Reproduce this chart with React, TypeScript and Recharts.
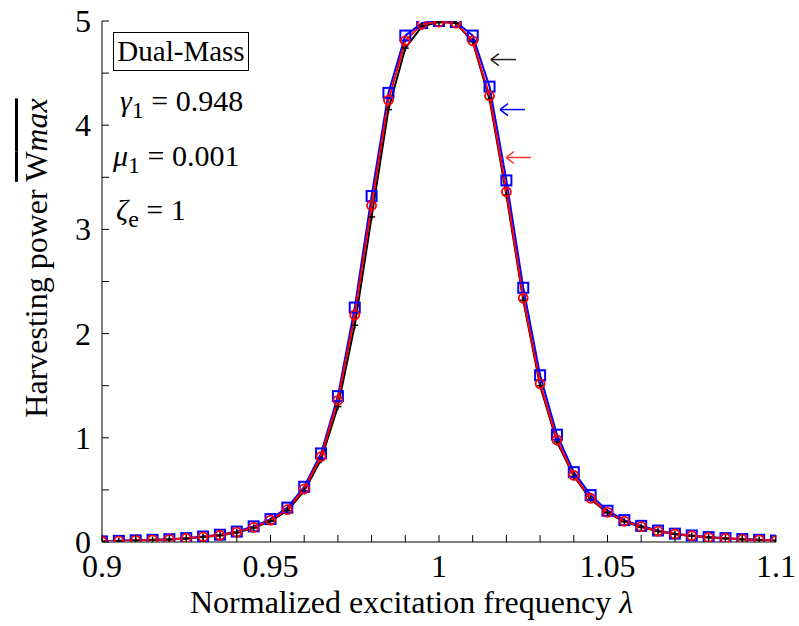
import { LineChart, Line, XAxis, YAxis, ReferenceDot } from 'recharts'

const lambdas = [
  0.9, 0.905, 0.91, 0.915, 0.92, 0.925, 0.93, 0.935, 0.94, 0.945,
  0.95, 0.955, 0.96, 0.965, 0.97, 0.975, 0.98, 0.985, 0.99, 0.995,
  1.0, 1.005, 1.01, 1.015, 1.02, 1.025, 1.03, 1.035, 1.04, 1.045,
  1.05, 1.055, 1.06, 1.065, 1.07, 1.075, 1.08, 1.085, 1.09, 1.095, 1.1,
]

const blackSeries = [
  0.005, 0.01, 0.014, 0.019, 0.024, 0.033, 0.048, 0.062, 0.09, 0.135,
  0.2, 0.3, 0.49, 0.79, 1.3, 2.08, 3.12, 4.15, 4.74, 4.95,
  4.99, 4.98, 4.8, 4.25, 3.33, 2.32, 1.5, 0.96, 0.63, 0.41,
  0.28, 0.195, 0.143, 0.102, 0.075, 0.058, 0.044, 0.034, 0.025, 0.019, 0.012,
]

const blueSeries = [
  0.006, 0.011, 0.016, 0.021, 0.027, 0.037, 0.053, 0.07, 0.1, 0.15,
  0.22, 0.33, 0.53, 0.85, 1.4, 2.25, 3.32, 4.31, 4.86, 4.98,
  5.0, 4.99, 4.86, 4.37, 3.47, 2.44, 1.6, 1.03, 0.67, 0.45,
  0.3, 0.21, 0.155, 0.11, 0.08, 0.063, 0.047, 0.037, 0.028, 0.021, 0.014,
]

const redSeries = [
  0.005, 0.01, 0.015, 0.02, 0.025, 0.035, 0.05, 0.065, 0.095, 0.14,
  0.21, 0.31, 0.51, 0.82, 1.36, 2.18, 3.23, 4.24, 4.81, 4.97,
  4.99, 4.98, 4.81, 4.28, 3.36, 2.34, 1.52, 0.98, 0.64, 0.42,
  0.285, 0.2, 0.147, 0.105, 0.077, 0.06, 0.045, 0.035, 0.026, 0.02, 0.013,
]

const xTicks = [
  0.9, 0.91, 0.92, 0.93, 0.94, 0.95, 0.96, 0.97, 0.98, 0.99, 1.0,
  1.01, 1.02, 1.03, 1.04, 1.05, 1.06, 1.07, 1.08, 1.09, 1.1,
]
const xLabels = [0.9, 0.95, 1, 1.05, 1.1]
const yTicks = [0, 0.5, 1, 1.5, 2, 2.5, 3, 3.5, 4, 4.5, 5]
const yLabels = [0, 1, 2, 3, 4, 5]

// arrows pointing at the three curves
const arrows = [
  { x: 1.0154, y: 4.63, color: '#222222' },
  { x: 1.0181, y: 4.15, color: '#0000ff' },
  { x: 1.0199, y: 3.69, color: '#ff3333' },
]

const data = lambdas.map((x, i) => ({
  x,
  black: blackSeries[i],
  blue: blueSeries[i],
  red: redSeries[i],
}))

const FONT = 'Liberation Serif, DejaVu Serif, serif'
const isIn = (list: number[], v: number) => list.some((l) => Math.abs(l - v) < 1e-6)

const BottomTick = ({ x, y, payload }: any) => (
  <g>
    <line x1={x} y1={y} x2={x} y2={y - 7} stroke="#000" strokeWidth={1} />
    {isIn(xLabels, payload.value) && (
      <text x={x} y={y + 35} textAnchor="middle" fontFamily={FONT} fontSize={32} fill="#000">
        {String(payload.value)}
      </text>
    )}
  </g>
)

const TopTick = ({ x, y }: any) => (
  <line x1={x} y1={y} x2={x} y2={y + 7} stroke="#000" strokeWidth={1} />
)

const LeftTick = ({ x, y, payload }: any) => (
  <g>
    <line x1={x} y1={y} x2={x + 7} y2={y} stroke="#000" strokeWidth={1} />
    {isIn(yLabels, payload.value) && (
      <text x={x - 11} y={y + 11} textAnchor="end" fontFamily={FONT} fontSize={32} fill="#000">
        {String(payload.value)}
      </text>
    )}
  </g>
)

const RightTick = ({ x, y }: any) => (
  <line x1={x} y1={y} x2={x - 8} y2={y} stroke="#000" strokeWidth={1} />
)

const PlusDot = ({ cx, cy }: any) => (
  <g>
    <line x1={cx - 3.5} y1={cy} x2={cx + 3.5} y2={cy} stroke="#000" strokeWidth={1.5} />
    <line x1={cx} y1={cy - 3.5} x2={cx} y2={cy + 3.5} stroke="#000" strokeWidth={1.5} />
  </g>
)

const SquareDot = ({ cx, cy }: any) => (
  <rect x={cx - 5} y={cy - 5} width={10} height={10} fill="none" stroke="#0000ff" strokeWidth={2} />
)

const CircleDot = ({ cx, cy }: any) => (
  <circle cx={cx} cy={cy} r={4.5} fill="none" stroke="#ff0000" strokeWidth={1.8} />
)

const Arrow = (color: string) => ({ cx, cy }: any) => (
  <g stroke={color} strokeWidth={1.5} fill="none">
    <line x1={cx} y1={cy} x2={cx + 25} y2={cy} />
    <line x1={cx} y1={cy} x2={cx + 8} y2={cy - 6} />
    <line x1={cx} y1={cy} x2={cx + 8} y2={cy + 6} />
  </g>
)

const textLine = { position: 'absolute' as const, fontFamily: FONT, fontSize: 30, color: '#000', lineHeight: 1, whiteSpace: 'nowrap' as const }

export default function App() {
  return (
    <div style={{ position: 'absolute', left: 0, top: 0, width: 799, height: 626, background: '#fff' }}>
      <LineChart width={799} height={626} data={data} margin={{ top: 21, right: 23, left: 0, bottom: 0 }}>
        <XAxis
          dataKey="x"
          type="number"
          domain={[0.9, 1.1]}
          ticks={xTicks}
          interval={0}
          height={84}
          tickSize={0}
          tickMargin={0}
          tick={<BottomTick />}
          axisLine={{ stroke: '#7f7f7f', strokeWidth: 2 }}
          tickLine={false}
          allowDataOverflow
        />
        <XAxis
          xAxisId="top"
          orientation="top"
          dataKey="x"
          type="number"
          domain={[0.9, 1.1]}
          ticks={xTicks}
          interval={0}
          height={0}
          tickSize={0}
          tickMargin={0}
          tick={<TopTick />}
          axisLine={{ stroke: '#7f7f7f', strokeWidth: 2 }}
          tickLine={false}
        />
        <YAxis
          type="number"
          domain={[0, 5]}
          ticks={yTicks}
          interval={0}
          width={102}
          tickSize={0}
          tickMargin={0}
          tick={<LeftTick />}
          axisLine={{ stroke: '#000', strokeWidth: 1 }}
          tickLine={false}
          allowDataOverflow
        />
        <YAxis
          yAxisId="right"
          orientation="right"
          type="number"
          domain={[0, 5]}
          ticks={yTicks}
          interval={0}
          width={0}
          tickSize={0}
          tickMargin={0}
          tick={<RightTick />}
          axisLine={{ stroke: '#7f7f7f', strokeWidth: 2 }}
          tickLine={false}
        />
        <Line
          type="linear"
          dataKey="black"
          stroke="#000"
          strokeWidth={2}
          dot={<PlusDot />}
          activeDot={false}
          isAnimationActive={false}
        />
        <Line
          type="linear"
          dataKey="blue"
          stroke="#0000ff"
          strokeWidth={2}
          dot={<SquareDot />}
          activeDot={false}
          isAnimationActive={false}
        />
        <Line
          type="linear"
          dataKey="red"
          stroke="#ff0000"
          strokeWidth={2}
          dot={<CircleDot />}
          activeDot={false}
          isAnimationActive={false}
        />
        {arrows.map((a, i) => (
          <ReferenceDot key={i} x={a.x} y={a.y} r={0} shape={Arrow(a.color)} />
        ))}
      </LineChart>

      <div
        style={{
          ...textLine,
          left: 113,
          top: 32,
          width: 134,
          height: 37,
          border: '1px solid #000',
          fontSize: 29,
          textAlign: 'center',
          lineHeight: '37px',
        }}
      >
        Dual-Mass
      </div>
      <div style={{ ...textLine, left: 120, top: 86 }}>
        <i>γ</i><sub style={{ fontSize: 24 }}>1</sub> = 0.948
      </div>
      <div style={{ ...textLine, left: 113, top: 141 }}>
        <i>μ</i><sub style={{ fontSize: 24 }}>1</sub> = 0.001
      </div>
      <div style={{ ...textLine, left: 116, top: 195 }}>
        <i>ζ</i><sub style={{ fontSize: 24 }}>e</sub> = 1
      </div>

      <div
        style={{
          ...textLine,
          fontSize: 32,
          left: 190,
          top: 586,
        }}
      >
        Normalized excitation frequency <i>λ</i>
      </div>

      <div
        style={{
          ...textLine,
          fontSize: 32,
          left: 36,
          top: 258,
          transform: 'translate(-50%, -50%) rotate(-90deg)',
        }}
      >
        Harvesting power <span style={{ textDecoration: 'overline' }}>W<i>max</i></span>
      </div>
    </div>
  )
}
